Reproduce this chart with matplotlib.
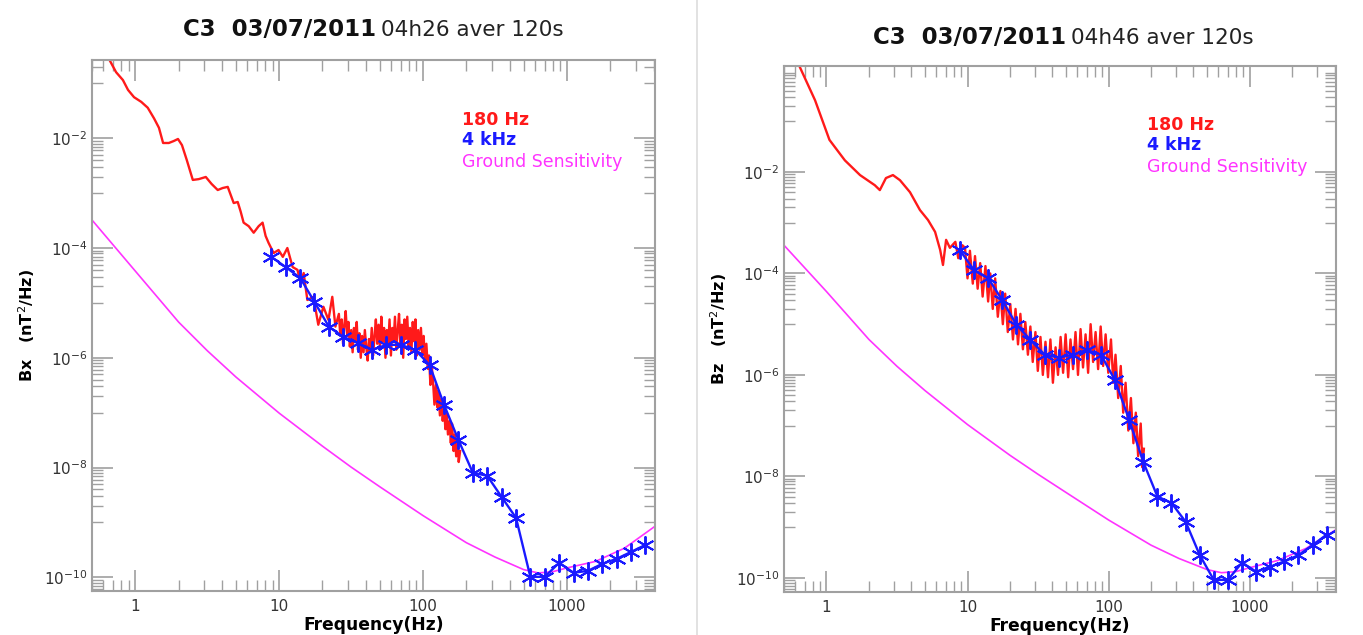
import math
import matplotlib.pyplot as plt
from matplotlib.lines import Line2D
from matplotlib.ticker import FixedLocator, FuncFormatter, NullFormatter

# ---------------- Bx, 03/07/2011 04h26 ----------------
bx_freq_180 = [0.62, 0.66, 0.735, 0.82, 0.89, 0.98, 1.10, 1.22, 1.35, 1.46, 1.56, 1.71, 1.85,
               1.98, 2.11, 2.28, 2.51, 2.76, 3.09, 3.39, 3.74, 4.05, 4.39, 4.60, 4.83, 5.15,
               5.40, 5.66, 6.14, 6.65, 7.20, 7.67, 8.05, 8.44, 8.71, 9.15, 9.9, 10.6, 11.4,
               12.4, 13.4, 14.1, 14.8, 15.7, 17.3, 18.7, 20.3, 22.0, 23.4, 24.6,
               26.0, 26.6, 27.2, 27.8, 28.4, 29.0, 29.7, 30.3, 31.0, 31.7, 32.4, 33.1, 33.8,
               34.6, 35.3, 36.1, 36.9, 37.7, 38.6, 39.4, 40.3, 41.2, 42.1, 43.0, 44.0, 45.0,
               46.0, 47.0, 48.0, 49.1, 50.2, 51.3, 52.4, 53.6, 54.8, 56.0, 57.2, 58.5, 59.8,
               61.1, 62.4, 63.8, 65.2, 66.7, 68.1, 69.6, 71.2, 72.8, 74.4, 76.0, 77.7, 79.4,
               81.2, 83.0, 84.8, 86.7, 88.6, 90.5, 92.5, 94.6, 96.7, 98.8, 101, 103, 105.5,
               108, 110, 112.5, 115, 117.5, 120, 123, 125.5, 128, 131, 134, 137, 140, 143,
               146, 149, 153, 156, 159, 163, 166, 170, 174, 177, 181]
bx_psd_180 = [0.40, 0.27, 0.16, 0.115, 0.076, 0.056, 0.046, 0.036, 0.023, 0.0155, 0.0082,
              0.0082, 0.0089, 0.0097, 0.0075, 0.0040, 0.00174, 0.0018, 0.00197, 0.00147,
              0.00114, 0.00124, 0.0013, 0.00093, 0.00066, 0.00069, 0.00046, 0.00029, 0.00025,
              0.00019, 0.00025, 0.00029, 1.66e-4, 1.24e-4, 1.05e-4, 8.1e-5, 9.2e-5, 6.9e-5,
              1.0e-4, 4.5e-5, 4.0e-5, 2.3e-5, 3.5e-5, 1.13e-5, 1.29e-5, 4.0e-6, 8.5e-6, 4.9e-6,
              1.29e-5, 3.7e-6,
              6.3e-6, 2.5e-6, 5.0e-6, 1.8e-6, 4.0e-6, 7.1e-6, 2.5e-6, 4.5e-6, 1.6e-6, 3.2e-6,
              1.26e-6, 3.5e-6, 2.0e-6, 4.5e-6, 1.4e-6, 2.8e-6, 1.0e-6, 2.5e-6, 1.26e-6, 3.2e-6,
              1.6e-6, 8.9e-7, 2.2e-6, 1.26e-6, 3.5e-6, 1.1e-6, 2.5e-6, 5.0e-6, 1.8e-6, 4.0e-6,
              1.4e-6, 5.6e-6, 2.0e-6, 3.5e-6, 1.0e-6, 3.2e-6, 1.6e-6, 5.0e-6, 1.1e-6, 3.5e-6,
              2.0e-6, 5.6e-6, 1.4e-6, 3.2e-6, 6.3e-6, 1.8e-6, 4.0e-6, 1.0e-6, 5.0e-6, 2.2e-6,
              5.6e-6, 1.6e-6, 3.5e-6, 1.26e-6, 4.5e-6, 2.0e-6, 5.0e-6, 1.1e-6, 3.2e-6, 1.4e-6,
              3.5e-6, 1.1e-6, 2.5e-6, 8.9e-7, 1.8e-6, 6.3e-7, 1.1e-6, 3.2e-7, 7.1e-7, 3.5e-7,
              1.4e-7, 3.2e-7, 1.26e-7, 2.5e-7, 8.9e-8, 1.8e-7, 7.1e-8, 1.26e-7, 5.0e-8, 1.0e-7,
              4.0e-8, 7.1e-8, 2.8e-8, 6.3e-8, 2.0e-8, 4.0e-8, 1.6e-8, 3.2e-8, 1.26e-8, 2.0e-8]

freq_4k = [8.8, 11.1, 14.0, 17.6, 22.2, 27.9, 35.2, 44.3, 55.7, 70.1, 88.3, 111, 140, 176,
           222, 279, 352, 443, 557, 702, 883, 1112, 1400, 1762, 2218, 2793, 3516]
bx_psd_4k = [6.9e-5, 4.5e-5, 2.85e-5, 1.04e-5, 3.65e-6, 2.4e-6, 1.86e-6, 1.39e-6, 1.72e-6,
             1.72e-6, 1.39e-6, 7.4e-7, 1.39e-7, 3.2e-8, 8.0e-9, 7.1e-9, 2.9e-9, 1.21e-9,
             1.02e-10, 1.02e-10, 1.84e-10, 1.21e-10, 1.31e-10, 1.76e-10, 2.17e-10, 2.9e-10,
             3.9e-10]

ground_freq = [0.5, 1, 2, 3.16, 5, 10, 20, 31.6, 50, 100, 200, 316, 500, 631, 794, 1000,
               1585, 2512, 4096]
bx_ground = [3.24e-4, 3.8e-5, 4.47e-6, 1.35e-6, 4.47e-7, 9.8e-8, 2.45e-8, 1.02e-8, 4.47e-9,
             1.33e-9, 4.27e-10, 2.34e-10, 1.38e-10, 1.2e-10, 1.26e-10, 1.48e-10, 1.95e-10,
             3.39e-10, 8.5e-10]

# ---------------- Bz, 03/07/2011 04h46 ----------------
bz_freq_180 = [0.62, 0.645, 0.83, 1.05, 1.35, 1.73, 2.2, 2.39, 2.64, 2.96, 3.32, 3.91, 4.6,
               5.25, 5.89, 6.4, 6.7, 7.05, 7.5, 8.2, 8.6, 9.2,
               9.6, 10.0, 10.4, 10.9, 11.3, 11.8, 12.3, 12.8, 13.4, 14.0, 14.5, 15.1, 15.7,
               16.4, 17.1, 17.8, 18.5, 19.3, 20.1, 21.0, 21.9, 22.8, 23.7, 24.7, 25.7, 26.8,
               27.9, 29.0, 30.3, 31.5, 32.9, 34.2, 35.7, 37.2, 38.7, 40.3, 42.1, 43.8, 45.7,
               47.6, 49.6, 51.7, 53.7, 56.0, 58.3, 60.7, 63.3, 65.9, 68.7, 71.6, 74.6, 77.7,
               80.9, 84.3, 87.9, 91.5, 95.3, 99.5, 104, 108, 112, 117, 122, 127, 132, 138,
               144, 150, 156, 162, 169, 174, 178]
bz_psd_180 = [1.5, 1.2, 0.26, 0.043, 0.017, 0.0087, 0.0055, 0.0044, 0.0076, 0.0087, 0.0069,
              0.0040, 0.00178, 0.00113, 0.00066, 2.9e-4, 1.47e-4, 4.6e-4, 3.2e-4, 4.2e-4,
              2.0e-4, 3.6e-4,
              3.2e-4, 8.0e-5, 2.8e-4, 6.3e-5, 2.2e-4, 5.0e-5, 1.6e-4, 3.5e-5, 1.4e-4,
              2.8e-5, 1.0e-4, 2.0e-5, 8.0e-5, 1.4e-5, 4.5e-5, 1.0e-5, 4.0e-5, 7.0e-6, 2.5e-5,
              5.0e-6, 2.0e-5, 4.0e-6, 1.6e-5, 3.2e-6, 1.1e-5, 2.5e-6, 9.0e-6, 1.8e-6, 7.0e-6,
              1.2e-6, 5.6e-6, 1.0e-6, 4.5e-6, 9.0e-7, 5.0e-6, 7.0e-7, 3.5e-6, 1.0e-6, 5.6e-6,
              1.1e-6, 6.3e-6, 9.0e-7, 5.0e-6, 1.3e-6, 7.0e-6, 1.0e-6, 8.0e-6, 1.4e-6, 6.3e-6,
              1.1e-6, 1.0e-5, 1.8e-6, 7.0e-6, 1.3e-6, 9.0e-6, 1.5e-6, 6.3e-6, 1.1e-6, 5.0e-6,
              7.0e-7, 2.5e-6, 3.5e-7, 1.5e-6, 1.8e-7, 7.0e-7, 8.0e-8, 3.5e-7, 4.5e-8, 1.8e-7,
              2.5e-8, 1.1e-7, 1.5e-8, 3.5e-8]

bz_psd_4k = [2.9e-4, 1.17e-4, 8.1e-5, 3.0e-5, 9.8e-6, 4.9e-6, 2.5e-6, 2.2e-6, 2.5e-6, 3.1e-6,
             2.5e-6, 7.9e-7, 1.3e-7, 1.94e-8, 4.0e-9, 3.0e-9, 1.27e-9, 2.8e-10, 9.1e-11, 9.1e-11,
             2.0e-10, 1.32e-10, 1.66e-10, 2.1e-10, 2.8e-10, 4.4e-10, 7.1e-10]

bz_ground = [3.6e-4, 4.4e-5, 5.0e-6, 1.48e-6, 4.9e-7, 1.05e-7, 2.6e-8, 1.1e-8, 4.8e-9, 1.38e-9,
             4.4e-10, 2.4e-10, 1.45e-10, 1.26e-10, 1.32e-10, 1.58e-10, 2.2e-10, 3.8e-10, 8.9e-10]

x_major = [1, 10, 100, 1000]
x_minor = [m * 10 ** e for e in range(-1, 4) for m in range(2, 10)]
y_major = [10.0 ** e for e in range(-10, 0, 2)]
y_minor = [m * 10.0 ** e for e in range(-11, 0, 2) for m in range(1, 10)]

AXCOL = '#a0a0a0'
TXTCOL = '#333333'
W, H = 1363.0, 635.0


def sci_label(v, pos):
    return r'$10^{%d}$' % int(round(math.log10(v)))


def desenha_painel(ax, f180, p180, p4k, g, ylab, ylim):
    ax.plot(ground_freq, g, color='#ff33ff', lw=1.2)
    ax.plot(f180, p180, color='#ff1a1a', lw=1.7)
    ax.plot(freq_4k, p4k, color='#1a1aff', lw=1.7, marker=(6, 2, 0), ms=13, mew=1.4)
    ax.set_xscale('log')
    ax.set_yscale('log')
    ax.set_xlim(0.5, 4096)
    ax.set_ylim(*ylim)

    ax.xaxis.set_major_locator(FixedLocator(x_major))
    ax.xaxis.set_minor_locator(FixedLocator(x_minor))
    ax.xaxis.set_major_formatter(FuncFormatter(lambda v, p: '%d' % v))
    ax.xaxis.set_minor_formatter(NullFormatter())
    ax.yaxis.set_major_locator(FixedLocator(y_major))
    ax.yaxis.set_minor_locator(FixedLocator(y_minor))
    ax.yaxis.set_major_formatter(FuncFormatter(sci_label))
    ax.yaxis.set_minor_formatter(NullFormatter())

    ax.tick_params(which='both', direction='in', top=True, right=True, color=AXCOL,
                   labelcolor=TXTCOL, labelsize=11)
    ax.tick_params(which='major', length=15, width=1.2)
    ax.tick_params(which='minor', length=8, width=1.0)
    ax.tick_params(axis='x', pad=6)
    for s in ax.spines.values():
        s.set_color(AXCOL)
        s.set_linewidth(1.5)

    ax.set_xlabel('Frequency(Hz)', fontsize=12.3, fontweight='bold', labelpad=1)
    ax.set_ylabel(ylab, fontsize=11.5, fontweight='bold', labelpad=5)

    ax.text(0.657, 0.887, '180 Hz', color='#ff1a1a', fontsize=12.5, fontweight='bold',
            transform=ax.transAxes, va='center')
    ax.text(0.657, 0.849, '4 kHz', color='#1a1aff', fontsize=12.5, fontweight='bold',
            transform=ax.transAxes, va='center')
    ax.text(0.657, 0.808, 'Ground Sensitivity', color='#ff33ff', fontsize=12.5,
            transform=ax.transAxes, va='center')


fig = plt.figure(figsize=(13.63, 6.35), dpi=100)

ax1 = fig.add_axes([92 / W, 44 / H, 563 / W, 531 / H])
desenha_painel(ax1, bx_freq_180, bx_psd_180, bx_psd_4k, bx_ground,
               'Bx   (nT$^2$/Hz)', (10 ** -10.25, 10 ** -0.574))

ax2 = fig.add_axes([784 / W, 43 / H, 552 / W, 526 / H])
desenha_painel(ax2, bz_freq_180, bz_psd_180, bz_psd_4k, bz_ground,
               'Bz   (nT$^2$/Hz)', (10 ** -10.28, 10 ** 0.09))

# titulos
fig.text(376 / W, 1 - 30 / H, 'C3  03/07/2011', fontsize=16.5, fontweight='bold',
         ha='right', va='center', color='#111111')
fig.text(381 / W, 1 - 30 / H, '04h26 aver 120s', fontsize=15.5, ha='left', va='center',
         color='#222222')
fig.text(1066 / W, 1 - 38 / H, 'C3  03/07/2011', fontsize=16.5, fontweight='bold',
         ha='right', va='center', color='#111111')
fig.text(1071 / W, 1 - 38 / H, '04h46 aver 120s', fontsize=15.5, ha='left', va='center',
         color='#222222')

# separador
fig.add_artist(Line2D([697 / W, 697 / W], [0, 1], color='#dddddd', lw=1.2))

fig.savefig('out.png', dpi=100)
